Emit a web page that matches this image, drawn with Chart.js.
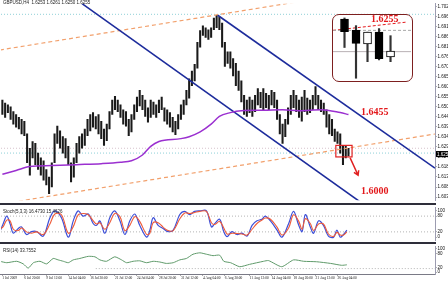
<!DOCTYPE html>
<html>
<head>
<meta charset="utf-8">
<script src="https://cdn.jsdelivr.net/npm/chart.js@4.4.0/dist/chart.umd.min.js"></script>
<style>
  html, body { margin: 0; padding: 0; background: #fff; }
  #wrap { position: relative; width: 448px; height: 281px; overflow: hidden; background: #fff; }
  #wrap > canvas { position: absolute; left: 0; }
  .sep { position: absolute; left: 0; width: 436px; background: #2e2e3a; }
  #inset { position: absolute; left: 332px; top: 14px; width: 81px; height: 68px; box-sizing: border-box;
           border: 1.5px solid #7d1f1f; border-radius: 7px; background: #fff; }
  #inset canvas { position: absolute; left: 0; top: 0; }
</style>
</head>
<body>
<div id="wrap">
  <canvas id="priceChart" width="448" height="204" style="top:0"></canvas>
  <canvas id="stochChart" width="448" height="40" style="top:204px"></canvas>
  <canvas id="rsiChart" width="448" height="38" style="top:243px"></canvas>
  <div class="sep" style="top:203px;height:2px"></div>
  <div class="sep" style="top:242px;height:2px"></div>
  <div id="inset"><canvas id="insetChart" width="78" height="65"></canvas></div>
</div>
<script>
// GBPUSD H4 - price, MA, channel, Stoch and RSI

// price bars (high / low), one per slot from the left
const priceHigh = [1.6535,1.6520,1.6510,1.6500,1.6475,1.6460,1.6445,1.6435,1.6425,1.6360,
  1.6285,1.6320,1.6310,1.6260,1.6235,1.6220,1.6175,1.6135,1.6210,1.6360,
  1.6400,1.6375,1.6345,1.6335,1.6295,1.6210,1.6235,1.6310,1.6345,1.6360,
  1.6385,1.6435,1.6460,1.6470,1.6450,1.6460,1.6425,1.6385,1.6410,1.6475,
  1.6535,1.6555,1.6535,1.6510,1.6485,1.6475,1.6435,1.6460,1.6510,1.6550,
  1.6585,1.6560,1.6535,1.6495,1.6535,1.6525,1.6510,1.6535,1.6550,1.6495,
  1.6485,1.6470,1.6445,1.6425,1.6460,1.6510,1.6535,1.6585,1.6645,1.6685,
  1.6720,1.6835,1.6895,1.6920,1.6910,1.6900,1.6910,1.6960,1.6975,1.6965,
  1.6935,1.6835,1.6785,1.6785,1.6750,1.6725,1.6685,1.6635,1.6560,1.6535,
  1.6550,1.6535,1.6560,1.6595,1.6575,1.6595,1.6570,1.6560,1.6585,1.6575,
  1.6535,1.6460,1.6410,1.6435,1.6495,1.6560,1.6585,1.6560,1.6535,1.6550,
  1.6585,1.6545,1.6535,1.6560,1.6605,1.6560,1.6535,1.6520,1.6485,1.6460,
  1.6435,1.6385,1.6370,1.6360,1.6300,1.6295,1.6285];
const priceLow = [1.6460,1.6445,1.6470,1.6435,1.6410,1.6395,1.6385,1.6360,1.6350,1.6210,
  1.6145,1.6235,1.6200,1.6175,1.6145,1.6120,1.6095,1.6050,1.6085,1.6210,
  1.6310,1.6285,1.6260,1.6235,1.6200,1.6110,1.6135,1.6210,1.6260,1.6285,
  1.6300,1.6350,1.6375,1.6395,1.6385,1.6360,1.6335,1.6300,1.6325,1.6385,
  1.6460,1.6485,1.6475,1.6445,1.6410,1.6400,1.6350,1.6370,1.6435,1.6475,
  1.6505,1.6485,1.6450,1.6420,1.6445,1.6460,1.6445,1.6470,1.6485,1.6425,
  1.6410,1.6395,1.6370,1.6355,1.6385,1.6435,1.6460,1.6510,1.6545,1.6610,
  1.6635,1.6700,1.6810,1.6870,1.6860,1.6850,1.6860,1.6900,1.6910,1.6900,
  1.6810,1.6710,1.6725,1.6700,1.6660,1.6610,1.6585,1.6525,1.6460,1.6450,
  1.6470,1.6450,1.6475,1.6510,1.6495,1.6485,1.6495,1.6485,1.6510,1.6495,
  1.6435,1.6360,1.6310,1.6345,1.6410,1.6460,1.6495,1.6475,1.6445,1.6425,
  1.6475,1.6460,1.6470,1.6485,1.6510,1.6485,1.6475,1.6460,1.6395,1.6360,
  1.6350,1.6320,1.6310,1.6260,1.6200,1.6235,1.6245];

// moving average (purple)
const maX = [0, 5, 10, 18, 27, 36, 43, 47, 51, 54, 57, 65, 68, 72, 76, 79, 83, 87, 95, 102, 108, 116, 123, 126];
const maVal = [1.6150,1.6170,1.6190,1.6195,1.6200,1.6205,1.6212,1.6220,1.6250,1.6295,1.6320,1.6335,
  1.6345,1.6370,1.6410,1.6450,1.6470,1.6480,1.6482,1.6485,1.6480,1.6485,1.6470,1.6460];

// trend lines, [slot, price] pairs
const channelUpper = [[78.4, 1.6975], [157.5, 1.6182]];
const channelLower = [[29, 1.7035], [132.4, 1.5985]];
const orangeUpper = [[-0.9, 1.6795], [157.5, 1.7160]];
const orangeLower = [[3.5, 1.6005], [157.5, 1.6359]];
const hLevels = [1.6980, 1.6285, 1.6260];
const hLevelColors = ['#8fd0d8', '#d6c2cc', '#8fd0d8'];

const priceTicks = [1.7020,1.6968,1.6916,1.6864,1.6812,1.6760,1.6708,1.6656,1.6604,1.6552,
  1.6500,1.6448,1.6396,1.6344,1.6292,1.6240,1.6188,1.6136,1.6084,1.6032];
const lastPrice = 1.6255;

// notes drawn on the price window
const notes = [["1.6455", 135.6, 1.6470], ["1.6000", 135.6, 1.6060]];
const markBox = [121.4, 127.3, 1.6300, 1.6240];
const markArrow = [[126.6, 1.6235], [129.5, 1.6145]];

// stochastic (5,3,3)
const stochX = [-0.9,0.3,1.6,2.8,4.0,5.8,7.0,8.8,10.6,12.5,14.9,17.3,19.1,21.5,24.0,25.8,27.6,29.4,31.3,33.1,
  34.3,35.5,37.3,39.1,40.9,42.8,44.6,46.4,48.2,50.0,52.5,53.7,54.9,56.7,58.5,60.3,62.2,64.6,66.4,68.2,
  70.0,71.9,74.3,76.1,77.3,79.1,80.6,81.8,83.6,85.4,87.2,89.1,90.9,92.7,94.5,95.7,97.6,100,101.8,104.2,
  106,107.9,109.1,110.3,112.1,113.3,115.1,116.9,118.7,120.6,121.8,123,124.2,125.4];
const stochMain = [21,51,80,51,15,33,39,10,21,21,4,74,100,74,0,62,100,80,88,51,
  45,62,15,74,100,62,10,62,88,45,0,27,74,45,33,21,27,86,98,86,
  98,100,100,39,51,68,21,2,21,10,15,4,45,62,68,80,62,27,0,51,
  98,45,21,86,39,15,62,45,4,0,27,0,10,27];
const stochSignal = [30,40,65,62,30,25,35,20,15,20,10,50,88,85,15,40,85,90,85,62,
  50,55,30,55,90,78,25,45,78,60,10,15,55,55,38,25,25,70,92,90,
  94,98,98,55,48,60,35,12,15,14,12,8,30,52,65,73,68,38,8,35,
  85,60,30,70,52,25,50,50,12,3,18,8,8,20];

// RSI(14)
const rsiX = [-0.9,1.6,5.2,7.6,9.4,11.3,13.7,16.1,18.5,20.3,22.2,24.0,25.8,28.2,31.3,33.7,35.5,37.9,40.9,43.4,
  45.2,47.6,50.0,52.5,54.9,57.3,59.7,62.2,64.6,67.0,69.4,71.9,74.3,76.7,79.1,80.6,83.1,86.4,90,95.1,
  96.9,101.7,106,109.7,114.4,119.5,123.5,125.4];
const rsiVal = [46,40,46,35,17,40,46,35,58,52,46,40,52,58,67,65,52,46,65,52,
  40,46,48,40,46,43,37,40,52,58,76,82,76,70,72,46,40,23,33,46,
  49,23,52,46,44,37,29,31];

// time axis
const dateTickIdx = [0, 8, 16, 24, 32, 41, 49, 57, 65, 73, 81, 90, 98, 106, 114, 122];
const dateLabels = ["1 Jul 2009", "6 Jul 20:00", "9 Jul 12:00", "14 Jul 04:00", "16 Jul 20:00", "21 Jul 12:00",
  "24 Jul 04:00", "28 Jul 20:00", "31 Jul 12:00", "4 Aug 04:00", "6 Aug 20:00", "11 Aug 12:00",
  "14 Aug 04:00", "18 Aug 20:00", "21 Aug 12:00", "26 Aug 04:00"];

// zoomed candles in the inset box
const insetOpen = [1.6274, 1.6255, 1.6232, 1.6252, 1.6210];
const insetHigh = [1.6276, 1.6263, 1.6252, 1.6258, 1.6246];
const insetLow = [1.6226, 1.6174, 1.6202, 1.6205, 1.6202];
const insetClose = [1.6253, 1.6233, 1.6252, 1.6207, 1.6220];


const X_MIN = -0.5, X_MAX = 157.5;
const tinyFont = { family: 'Liberation Sans', size: 4.5 };
const dateFont = { family: 'Liberation Sans Narrow', size: 3.5 };

function rightAxis(min, max, ticks, fmt) {
  return {
    position: 'right', min: min, max: max,
    afterFit: s => { s.width = 13; },
    afterBuildTicks: s => { s.ticks = ticks.map(v => ({ value: v })); },
    grid: { drawOnChartArea: false, tickLength: 1.5, color: '#666' },
    border: { color: '#9c9cb0', width: 1 },
    ticks: { font: tinyFont, color: '#111', padding: 1, callback: fmt }
  };
}

function pairLine(pts, color, width, dash, order) {
  return {
    type: 'line', data: pts.map(p => ({ x: p[0], y: p[1] })),
    borderColor: color, borderWidth: width, borderDash: dash || [],
    pointRadius: 0, fill: false, order: order
  };
}

// Price window

let priceOverlay = {
  id: 'priceOverlay',
  afterDraw(chart) {
    const { ctx, scales: { x, y } } = chart;
    ctx.save();

    // red box on the last bars
    ctx.strokeStyle = '#e02020';
    ctx.lineWidth = 1.2;
    let bx0 = x.getPixelForValue(markBox[0]), bx1 = x.getPixelForValue(markBox[1]);
    let by0 = y.getPixelForValue(markBox[2]), by1 = y.getPixelForValue(markBox[3]);
    ctx.strokeRect(bx0, by0, bx1 - bx0, by1 - by0);

    // arrow down
    let ax0 = x.getPixelForValue(markArrow[0][0]), ay0 = y.getPixelForValue(markArrow[0][1]);
    let ax1 = x.getPixelForValue(markArrow[1][0]), ay1 = y.getPixelForValue(markArrow[1][1]);
    ctx.lineWidth = 1.5;
    ctx.beginPath();
    ctx.moveTo(ax0, ay0);
    ctx.lineTo(ax1, ay1);
    let ang = Math.atan2(ay1 - ay0, ax1 - ax0);
    ctx.moveTo(ax1 - 5 * Math.cos(ang - 0.55), ay1 - 5 * Math.sin(ang - 0.55));
    ctx.lineTo(ax1, ay1);
    ctx.lineTo(ax1 - 5 * Math.cos(ang + 0.55), ay1 - 5 * Math.sin(ang + 0.55));
    ctx.stroke();

    // red price notes
    ctx.fillStyle = '#e3191c';
    ctx.font = 'bold 10px "Liberation Serif"';
    ctx.textAlign = 'center';
    ctx.textBaseline = 'middle';
    notes.forEach(n => ctx.fillText(n[0], x.getPixelForValue(n[1]), y.getPixelForValue(n[2])));

    // header
    ctx.font = '4.5px "Liberation Sans"';
    ctx.textAlign = 'left';
    ctx.fillStyle = '#222';
    ctx.fillText('GBPUSD,H4  1.6253 1.6261 1.6250 1.6255', 3, 3);

    // current price tag
    let py = y.getPixelForValue(lastPrice);
    ctx.fillStyle = '#000';
    ctx.fillRect(x.right + 1, py - 3, 13, 6);
    ctx.fillStyle = '#fff';
    ctx.fillText(lastPrice.toFixed(4), x.right + 2, py + 0.3);
    ctx.restore();
  }
};

let datasetsPrice = [
  {
    type: 'bar',
    data: priceHigh.map((h, i) => ({ x: i, y: [priceLow[i], h] })),
    backgroundColor: '#1a1a1a', barThickness: 1.4, grouped: false, order: 1
  },
  {
    type: 'line', data: maX.map((v, i) => ({ x: v, y: maVal[i] })),
    borderColor: '#9b30d0', borderWidth: 1.5, pointRadius: 0, fill: false,
    cubicInterpolationMode: 'monotone', order: 0
  },
  pairLine(channelUpper, '#1d2c9c', 1.6, null, 0),
  pairLine(channelLower, '#1d2c9c', 1.6, null, 0),
  pairLine(orangeUpper, '#f2a06c', 1.2, [4, 3], 0),
  pairLine(orangeLower, '#f2a06c', 1.2, [4, 3], 0)
];
hLevels.forEach((lv, i) => {
  datasetsPrice.push(pairLine([[X_MIN, lv], [X_MAX, lv]], hLevelColors[i], 1, [1, 2], 2));
});

let myPriceChart = new Chart(document.getElementById('priceChart'), {
  type: 'bar',
  data: { datasets: datasetsPrice },
  options: {
    responsive: false, animation: false,
    layout: { padding: { left: 1, right: 0, top: 0, bottom: 0 } },
    plugins: { legend: { display: false }, tooltip: { enabled: false } },
    scales: {
      x: { type: 'linear', min: X_MIN, max: X_MAX, offset: false, display: false },
      y: rightAxis(1.6015, 1.7035, priceTicks, v => v.toFixed(4))
    }
  },
  plugins: [priceOverlay]
});

// Stochastic window

let stochLabel = {
  id: 'stochLabel',
  afterDraw(chart) {
    const ctx = chart.ctx;
    ctx.save();
    ctx.font = '4.5px "Liberation Sans"';
    ctx.fillStyle = '#222';
    ctx.textBaseline = 'middle';
    ctx.fillText('Stoch(5,3,3) 16.4730 15.4626', 3, chart.chartArea.top + 4);
    ctx.restore();
  }
};

let myStochChart = new Chart(document.getElementById('stochChart'), {
  type: 'line',
  data: {
    datasets: [
      { data: stochX.map((v, i) => ({ x: v, y: stochSignal[i] })), borderColor: '#ee5b3a', borderWidth: 1.1,
        pointRadius: 0, tension: 0.35, order: 0 },
      { data: stochX.map((v, i) => ({ x: v, y: stochMain[i] })), borderColor: '#3d4fd8', borderWidth: 1.2,
        pointRadius: 0, tension: 0.35, order: 1 },
      pairLine([[X_MIN, 80], [X_MAX, 80]], '#b4b4b4', 1, [1, 2], 2),
      pairLine([[X_MIN, 20], [X_MAX, 20]], '#b4b4b4', 1, [1, 2], 2)
    ]
  },
  options: {
    responsive: false, animation: false,
    layout: { padding: { left: 1, right: 0, top: 1, bottom: 1 } },
    plugins: { legend: { display: false }, tooltip: { enabled: false } },
    scales: {
      x: { type: 'linear', min: X_MIN, max: X_MAX, offset: false, display: false },
      y: rightAxis(-12, 112, [100, 80, 20, 0], v => String(v))
    }
  },
  plugins: [stochLabel]
});

// RSI window + time axis

let rsiLabel = {
  id: 'rsiLabel',
  afterDraw(chart) {
    const ctx = chart.ctx;
    ctx.save();
    ctx.font = '4.5px "Liberation Sans"';
    ctx.fillStyle = '#222';
    ctx.textBaseline = 'middle';
    ctx.fillText('RSI(14) 33.7552', 3, chart.chartArea.top + 4);
    ctx.strokeStyle = '#7a7a86';
    ctx.lineWidth = 1;
    ctx.beginPath();
    ctx.moveTo(0, chart.chartArea.bottom + 0.5);
    ctx.lineTo(chart.chartArea.right, chart.chartArea.bottom + 0.5);
    ctx.stroke();
    ctx.restore();
  }
};

let myRsiChart = new Chart(document.getElementById('rsiChart'), {
  type: 'line',
  data: {
    datasets: [
      { data: rsiX.map((v, i) => ({ x: v, y: rsiVal[i] })), borderColor: '#5f9a6a', borderWidth: 1,
        pointRadius: 0, tension: 0.2, order: 0 },
      pairLine([[34, 15], [X_MAX, 15]], '#b4b4b4', 1, [1, 2], 1)
    ]
  },
  options: {
    responsive: false, animation: false,
    layout: { padding: { left: 1, right: 0, top: 1, bottom: 0 } },
    plugins: { legend: { display: false }, tooltip: { enabled: false } },
    scales: {
      x: {
        type: 'linear', min: X_MIN, max: X_MAX, offset: false,
        afterFit: s => { s.height = 7; },
        afterBuildTicks: s => { s.ticks = dateTickIdx.map(v => ({ value: v })); },
        grid: { drawOnChartArea: false, tickLength: 1.5, color: '#555' },
        border: { display: false },
        ticks: { autoSkip: false, maxRotation: 0, align: 'start', padding: 0, font: dateFont, color: '#111',
                 callback: (v, i) => dateLabels[i] }
      },
      y: rightAxis(-8, 108, [100, 80, 20, 0], v => String(v))
    }
  },
  plugins: [rsiLabel]
});

// Inset with the last candles

let insetNote = {
  id: 'insetNote',
  afterDraw(chart) {
    const { ctx, scales: { x, y } } = chart;
    ctx.save();
    ctx.fillStyle = '#e3191c';
    ctx.font = 'bold 10px "Liberation Serif"';
    ctx.textAlign = 'center';
    ctx.textBaseline = 'middle';
    ctx.fillText('1.6255', x.getPixelForValue(3.5), y.getPixelForValue(1.6273));
    ctx.restore();
  }
};

let myInsetChart = new Chart(document.getElementById('insetChart'), {
  type: 'bar',
  data: {
    datasets: [
      {
        data: insetOpen.map((o, i) => ({ x: i, y: [o, insetClose[i]] })),
        backgroundColor: insetOpen.map((o, i) => insetClose[i] > o ? '#fff' : '#000'),
        borderColor: '#000', borderWidth: 1, borderSkipped: false,
        barThickness: 8, grouped: false, order: 0
      },
      {
        data: insetHigh.map((h, i) => ({ x: i, y: [insetLow[i], h] })),
        backgroundColor: '#333', barThickness: 1.5, grouped: false, order: 1
      },
      pairLine([[-1, 1.6255], [5.78, 1.6255]], '#a8a8a8', 1, [3, 2], 2),
      pairLine([[-1, 1.6219], [5.78, 1.6219]], '#b8b0b4', 1, null, 2),
      pairLine([[-1, 1.6255], [5.4, 1.6269]], '#e3191c', 1, [3, 2], 2)
    ]
  },
  options: {
    responsive: false, animation: false,
    layout: { padding: 0 },
    plugins: { legend: { display: false }, tooltip: { enabled: false } },
    scales: {
      x: { type: 'linear', min: -1, max: 5.78, offset: false, display: false },
      y: { min: 1.6171, max: 1.6281, display: false }
    }
  },
  plugins: [insetNote]
});
</script>
</body>
</html>
